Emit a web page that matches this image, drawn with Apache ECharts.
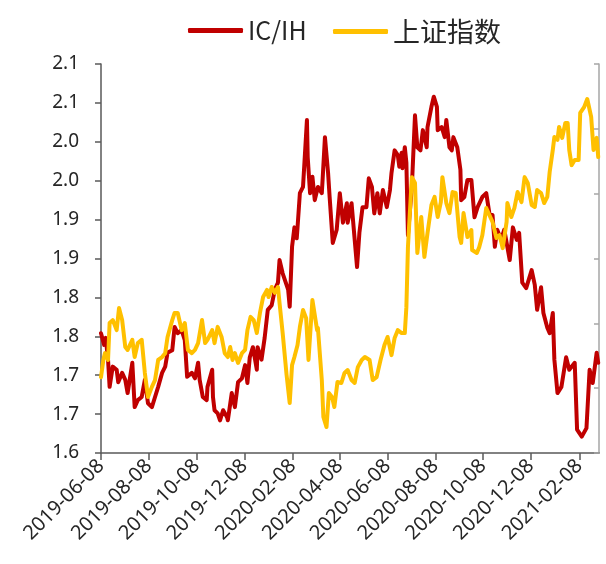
<!DOCTYPE html>
<html>
<head>
<meta charset="utf-8">
<script src="https://cdn.jsdelivr.net/npm/echarts@6.0.0/dist/echarts.min.js"></script>
<style>
  html, body { margin: 0; padding: 0; background: #fff; }
  #chart { width: 606px; height: 564px; }
</style>
</head>
<body>
<div id="chart"></div>
<script>
  // 日期用距 2019-06-08 的天数表示
  var startDate = [2019, 6, 8];
  var endDay = 636;
  var xTickLabels = ['2019-06-08', '2019-08-08', '2019-10-08', '2019-12-08', '2020-02-08', '2020-04-08',
    '2020-06-08', '2020-08-08', '2020-10-08', '2020-12-08', '2021-02-08'];

  // IC/IH（左轴）
  var icihDays = [0, 4, 6, 9, 11, 15, 20, 22, 27, 31,
    34, 40, 43, 47, 52, 56, 60, 65, 69, 73,
    78, 82, 85, 91, 94, 98, 103, 107, 110, 116,
    120, 124, 126, 130, 135, 136, 142, 143, 145, 149,
    152, 156, 161, 162, 167, 171, 175, 180, 184, 187,
    190, 194, 199, 200, 205, 209, 213, 218, 222, 226,
    228, 232, 239, 241, 244, 247, 250, 251, 254, 258,
    263, 264, 267, 270, 273, 277, 282, 283, 286, 290,
    292, 296, 301, 305, 309, 314, 315, 320, 327, 330,
    334, 339, 342, 346, 349, 353, 356, 360, 365, 369,
    371, 375, 379, 381, 384, 385, 388, 390, 392, 397,
    401, 404, 408, 411, 416, 417, 422, 425, 429, 430,
    435, 439, 441, 445, 448, 450, 455, 459, 460, 464,
    468, 473, 477, 481, 487, 492, 496, 500, 503, 506,
    511, 515, 522, 526, 531, 534, 538, 543, 550, 554,
    557, 562, 565, 570, 573, 577, 579, 583, 588, 594,
    598, 605, 608, 614, 620, 624, 628, 633, 635];
  var icihValues = [1.754, 1.739, 1.748, 1.720, 1.685, 1.711, 1.707, 1.691, 1.703, 1.694,
    1.677, 1.716, 1.659, 1.668, 1.672, 1.694, 1.664, 1.659, 1.672, 1.685,
    1.703, 1.711, 1.729, 1.732, 1.762, 1.754, 1.758, 1.745, 1.698, 1.703,
    1.696, 1.716, 1.694, 1.672, 1.668, 1.685, 1.707, 1.672, 1.655, 1.651,
    1.642, 1.655, 1.646, 1.642, 1.677, 1.659, 1.691, 1.696, 1.713, 1.690,
    1.723, 1.736, 1.707, 1.736, 1.720, 1.748, 1.784, 1.790, 1.810, 1.819,
    1.848, 1.831, 1.810, 1.788, 1.865, 1.890, 1.876, 1.890, 1.934, 1.942,
    2.028, 1.980, 1.934, 1.955, 1.925, 1.942, 1.934, 1.951, 2.006, 1.960,
    1.929, 1.870, 1.887, 1.934, 1.896, 1.921, 1.896, 1.921, 1.839, 1.883,
    1.916, 1.916, 1.953, 1.942, 1.908, 1.934, 1.908, 1.938, 1.916, 1.938,
    1.960, 1.989, 1.983, 1.968, 1.986, 1.966, 1.993, 1.973, 1.880, 1.942,
    2.034, 1.993, 1.989, 2.015, 1.993, 2.019, 2.045, 2.058, 2.045, 2.015,
    2.019, 2.006, 2.028, 1.993, 1.989, 2.006, 1.993, 1.964, 1.925, 1.929,
    1.951, 1.951, 1.903, 1.916, 1.929, 1.934, 1.908, 1.906, 1.865, 1.887,
    1.874, 1.887, 1.848, 1.890, 1.874, 1.883, 1.819, 1.812, 1.835, 1.816,
    1.784, 1.813, 1.780, 1.761, 1.754, 1.780, 1.720, 1.677, 1.685, 1.723,
    1.707, 1.716, 1.630, 1.621, 1.632, 1.707, 1.690, 1.729, 1.716];

  // 上证指数（右轴，不显示刻度标签）
  var shDays = [0, 3, 5, 9, 11, 15, 20, 23, 27, 31,
    34, 40, 43, 47, 52, 56, 60, 65, 69, 73,
    78, 82, 85, 91, 94, 98, 103, 107, 111, 116,
    120, 124, 129, 133, 136, 142, 145, 149, 154, 158,
    162, 165, 168, 171, 175, 180, 184, 187, 191, 195,
    199, 203, 207, 212, 214, 218, 222, 226, 228, 232,
    237, 241, 244, 247, 251, 254, 258, 262, 265, 270,
    276, 277, 282, 284, 288, 291, 295, 298, 302, 307,
    311, 315, 320, 324, 328, 333, 337, 343, 347, 352,
    357, 362, 366, 371, 375, 379, 384, 388, 390, 392,
    397, 401, 404, 409, 413, 417, 422, 426, 430, 434,
    436, 441, 445, 449, 453, 458, 460, 463, 468, 473,
    474, 480, 483, 487, 492, 496, 500, 505, 509, 513,
    518, 519, 524, 528, 532, 537, 541, 545, 550, 554,
    557, 562, 566, 570, 573, 577, 579, 583, 585, 589,
    593, 596, 598, 601, 605, 610, 612, 617, 621, 626,
    629, 633, 635];
  var shValues = [2834, 2887, 2908, 2887, 3001, 3010, 2979, 3047, 3010, 2927,
    2918, 2949, 2896, 2939, 2949, 2847, 2773, 2804, 2825, 2887,
    2896, 2908, 2958, 3010, 3032, 3032, 2979, 3001, 2918, 2908,
    2918, 2939, 3010, 2939, 2949, 2979, 2939, 2989, 2958, 2908,
    2896, 2927, 2887, 2908, 2878, 2908, 2918, 2979, 3020, 3010,
    2970, 3032, 3081, 3103, 3081, 3112, 3094, 3112, 3063, 2970,
    2841, 2754, 2871, 2896, 2933, 2989, 3041, 3016, 2887, 3072,
    2979, 2986, 2825, 2711, 2680, 2785, 2773, 2742, 2819, 2816,
    2847, 2856, 2825, 2816, 2865, 2887, 2896, 2887, 2825, 2834,
    2887, 2933, 2958, 2902, 2955, 2979, 2970, 2970, 3050, 3235,
    3451, 3433, 3217, 3328, 3205, 3279, 3365, 3390, 3328, 3374,
    3451, 3371, 3340, 3405, 3402, 3266, 3248, 3340, 3266, 3288,
    3226, 3217, 3235, 3272, 3356, 3334, 3313, 3263, 3272, 3232,
    3313, 3371, 3328, 3356, 3405, 3374, 3451, 3433, 3365, 3359,
    3411, 3402, 3371, 3390, 3467, 3535, 3575, 3566, 3606, 3572,
    3618, 3618, 3535, 3488, 3504, 3504, 3649, 3667, 3692, 3637,
    3535, 3572, 3513];

  function dayToDate(d) {
    return new Date(startDate[0], startDate[1] - 1, startDate[2] + d);
  }
  function pad(n) { return n < 10 ? '0' + n : '' + n; }
  function fmtDay(v) {
    var d = dayToDate(Math.round(v));
    return d.getFullYear() + '-' + pad(d.getMonth() + 1) + '-' + pad(d.getDate());
  }
  var t0 = Date.UTC(startDate[0], startDate[1] - 1, startDate[2]);
  var tickDays = xTickLabels.map(function (s) {
    var p = s.split('-');
    return Math.round((Date.UTC(+p[0], +p[1] - 1, +p[2]) - t0) / 86400000);
  });
  function pairs(days, vals) {
    return days.map(function (d, i) { return [d, vals[i]]; });
  }

  var textColor = '#262626';
  var legendBase = {
    top: 18,
    padding: 0,
    itemWidth: 55,
    itemHeight: 5,
    icon: 'roundRect',
    textStyle: { fontSize: 27, color: textColor, fontFamily: '"Noto Sans CJK SC", "Noto Sans", sans-serif' }
  };
  var chart = echarts.init(document.getElementById('chart'));
  chart.setOption({
    animation: false,
    backgroundColor: '#fff',
    legend: [
      Object.assign({}, legendBase, { left: 188, data: ['IC/IH'], textStyle: Object.assign({}, legendBase.textStyle, { fontSize: 25 }) }),
      Object.assign({}, legendBase, { left: 333, data: ['上证指数'] })
    ],
    grid: { left: 101, right: 7, top: 64, bottom: 111, outerBoundsMode: 'none' },
    xAxis: {
      type: 'value',
      min: 0,
      max: endDay,
      axisLine: { onZero: false, lineStyle: { color: '#595959', width: 1.5 } },
      axisTick: { customValues: tickDays, length: 7, lineStyle: { color: '#595959', width: 1.5 } },
      axisLabel: {
        customValues: tickDays,
        rotate: 45,
        margin: 10,
        fontSize: 20,
        color: textColor,
        fontFamily: '"Noto Sans", sans-serif',
        formatter: function (v) { return fmtDay(v); }
      },
      splitLine: { show: false }
    },
    yAxis: [{
      type: 'value',
      min: 1.6,
      max: 2.1,
      interval: 0.05,
      axisLine: { show: true, onZero: false, lineStyle: { color: '#595959', width: 1.5 } },
      axisTick: { show: true, length: 6, lineStyle: { color: '#595959', width: 1.5 } },
      axisLabel: {
        margin: 22,
        fontSize: 19,
        color: textColor,
        fontFamily: '"Noto Sans", sans-serif',
        formatter: function (v) { return (Math.round(v * 10 + 0.001) / 10).toFixed(1); }
      },
      splitLine: { show: false }
    }, {
      type: 'value',
      position: 'right',
      min: 2600,
      max: 3800,
      interval: 200,
      axisLine: { show: true, onZero: false, lineStyle: { color: '#A6A6A6', width: 1.5 } },
      axisTick: { show: true, inside: true, length: 5, lineStyle: { color: '#A6A6A6', width: 1.5 } },
      axisLabel: { show: false },
      splitLine: { show: false }
    }],
    series: [{
      name: 'IC/IH',
      type: 'line',
      yAxisIndex: 0,
      data: pairs(icihDays, icihValues),
      symbol: 'none',
      color: '#C00000',
      lineStyle: { width: 4, color: '#C00000', join: 'round', cap: 'round' }
    }, {
      name: '上证指数',
      type: 'line',
      yAxisIndex: 1,
      data: pairs(shDays, shValues),
      symbol: 'none',
      color: '#FFC000',
      lineStyle: { width: 4, color: '#FFC000', join: 'round', cap: 'round' }
    }]
  });
</script>
</body>
</html>
